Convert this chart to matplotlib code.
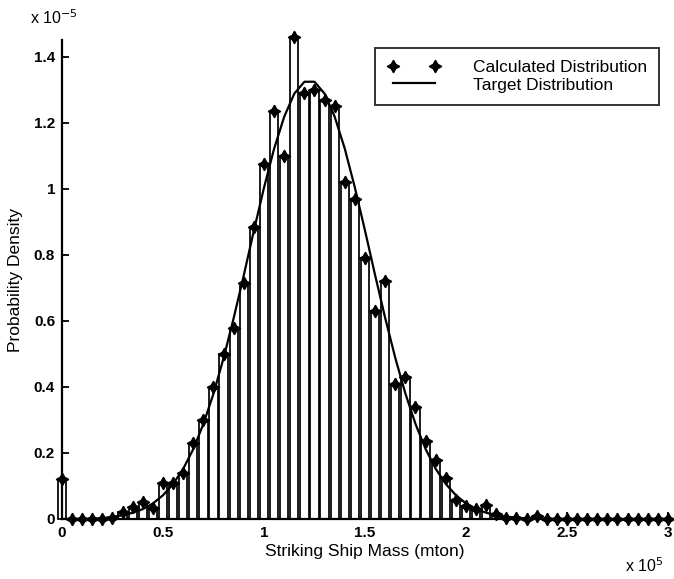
import numpy as np
import matplotlib
matplotlib.use("Agg")
import matplotlib.pyplot as plt

plt.rcParams['font.family'] = ['Liberation Sans', 'DejaVu Sans']

# Bin centres (ship mass, in units of 1e5 mton)
mass = np.arange(0, 61) * 0.05

# Calculated distribution (probability density, units of 1e-5)
calculated = [
    0.12, 0, 0, 0, 0, 0.003, 0.022, 0.037, 0.052, 0.032,
    0.11, 0.11, 0.14, 0.23, 0.30, 0.40, 0.50, 0.58, 0.715, 0.885,
    1.075, 1.235, 1.10, 1.46, 1.29, 1.30, 1.27, 1.25, 1.02, 0.97,
    0.79, 0.63, 0.72, 0.41, 0.43, 0.34, 0.235, 0.18, 0.125, 0.058,
    0.04, 0.03, 0.042, 0.015, 0.003, 0.003, 0, 0.01, 0, 0,
    0, 0, 0, 0, 0, 0, 0, 0, 0, 0,
    0,
]

# Target distribution (at each bin centre)
target = [
    0.0, 0.0, 0.0, 0.001, 0.002, 0.007, 0.011, 0.019, 0.030, 0.047,
    0.072, 0.106, 0.152, 0.212, 0.288, 0.380, 0.488, 0.609, 0.739, 0.874,
    1.004, 1.122, 1.219, 1.289, 1.325, 1.325, 1.289, 1.219, 1.122, 1.004,
    0.874, 0.739, 0.609, 0.488, 0.380, 0.288, 0.212, 0.152, 0.106, 0.072,
    0.047, 0.030, 0.019, 0.011, 0.007, 0.004, 0.002, 0.001, 0.0, 0.0,
    0, 0, 0, 0, 0, 0, 0, 0, 0, 0,
    0,
]

xticks = [0, 0.5, 1, 1.5, 2, 2.5, 3]
xtick_labels = ["0", "0.5", "1", "1.5", "2", "2.5", "3"]
yticks = [0, 0.2, 0.4, 0.6, 0.8, 1.0, 1.2, 1.4]
ytick_labels = ["0", "0.2", "0.4", "0.6", "0.8", "1", "1.2", "1.4"]

fig = plt.figure(figsize=(6.74, 5.79), dpi=100)
ax = fig.add_axes([62 / 674, 60 / 579, 606 / 674, 479 / 579])

bars = ax.bar(mass, calculated, width=0.041, color='white', edgecolor='black',
              linewidth=1.25, zorder=2)
for b in bars:
    b.set_clip_on(False)
ax.plot(mass, target, color='black', linewidth=1.6, zorder=3,
        label='Target Distribution')
ax.plot(mass, calculated, linestyle='none', marker=(4, 1, 0), markersize=9,
        color='black', zorder=4, label='Calculated Distribution', clip_on=False)

ax.set_xlim(0, 3)
ax.set_ylim(0, 1.4515)
ax.set_xticks(xticks)
ax.set_xticklabels(xtick_labels)
ax.set_yticks(yticks)
ax.set_yticklabels(ytick_labels)
ax.tick_params(direction='in', length=5, width=1.3, labelsize=11, pad=5)
for lab in ax.get_xticklabels() + ax.get_yticklabels():
    lab.set_fontweight('bold')
for s in ['top', 'right']:
    ax.spines[s].set_visible(False)
for s in ['left', 'bottom']:
    ax.spines[s].set_linewidth(1.6)

ax.set_xlabel('Striking Ship Mass (mton)', fontsize=12.5, labelpad=3)
ax.set_ylabel('Probability Density', fontsize=12.5, labelpad=8)

handles, labels = ax.get_legend_handles_labels()
leg = ax.legend(handles[::-1], labels[::-1], loc='upper right',
                bbox_to_anchor=(597 / 606, 1 - 8 / 479), numpoints=2,
                handlelength=3.0, fontsize=12.5, frameon=True, fancybox=False,
                edgecolor='black', borderpad=0.7, labelspacing=0.12,
                handletextpad=1.9, borderaxespad=0.0)
leg.get_frame().set_linewidth(1.4)

fig.text(30 / 674, 1 - 18 / 579, r'x 10$^{-5}$', fontsize=11.5, va='center', ha='left')
fig.text(625 / 674, 1 - 566 / 579, r'x 10$^{5}$', fontsize=11.5, va='center', ha='left')

fig.savefig('out.png', dpi=100, facecolor='white')
